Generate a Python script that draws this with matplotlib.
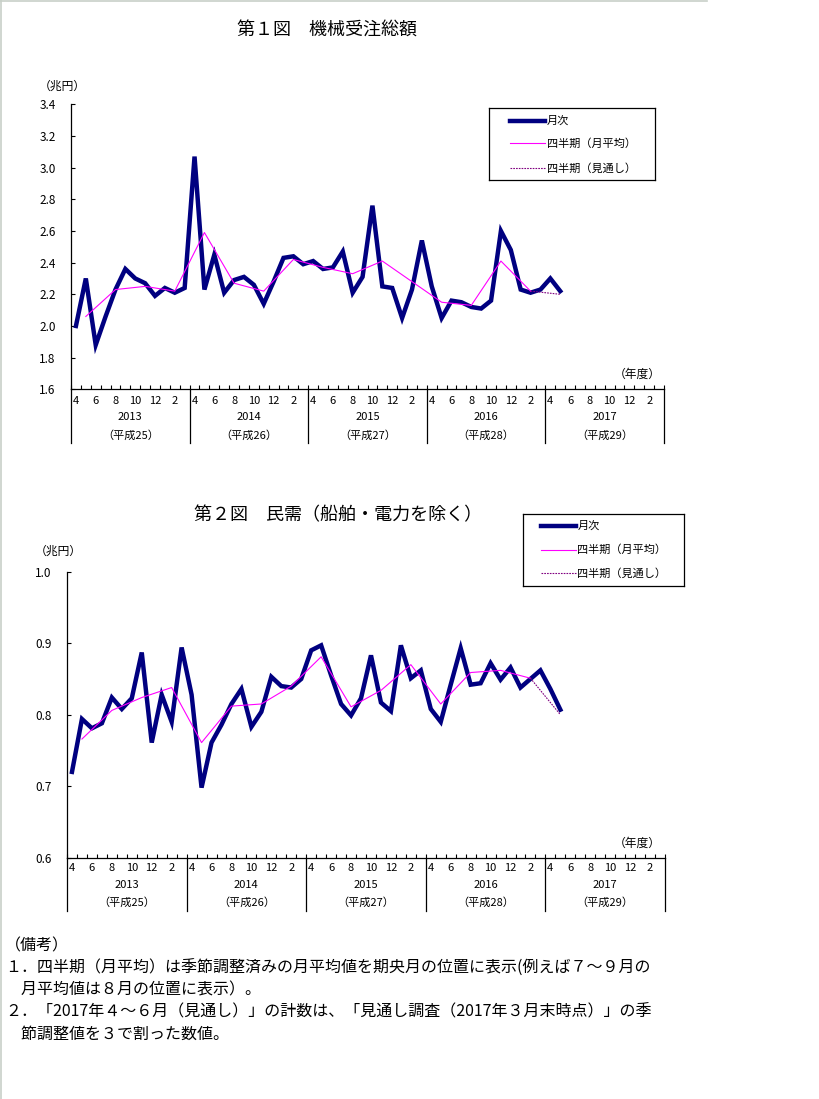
import matplotlib
matplotlib.use("Agg")
import matplotlib.pyplot as plt
from matplotlib.lines import Line2D

plt.rcParams['font.family'] = ['Noto Sans CJK JP', 'DejaVu Sans']

W, H = 819, 1099

# ── Data ──────────────────────────────────────────────────────────
years = ["2013", "2014", "2015", "2016", "2017"]
heisei = ["（平成25）", "（平成26）", "（平成27）", "（平成28）", "（平成29）"]
month_labels = ["4", "6", "8", "10", "12", "2"]
legend_labels = ["月次", "四半期（月平均）", "四半期（見通し）"]

# 機械受注総額 (兆円), Apr 2013 - May 2017
total_monthly = [
    2.00, 2.30, 1.88, 2.06, 2.23, 2.36, 2.30, 2.27, 2.19, 2.24, 2.21, 2.24,
    3.07, 2.23, 2.45, 2.21, 2.29, 2.31, 2.26, 2.14, 2.28, 2.43, 2.44, 2.39,
    2.41, 2.36, 2.37, 2.47, 2.21, 2.31, 2.76, 2.25, 2.24, 2.05, 2.23, 2.54,
    2.25, 2.05, 2.16, 2.15, 2.12, 2.11, 2.16, 2.60, 2.48, 2.23, 2.21, 2.23,
    2.30, 2.22,
]
# quarterly averages, shown at the middle month (May, Aug, Nov, Feb)
total_quarterly = [
    2.06, 2.23, 2.25, 2.22, 2.59, 2.27, 2.22, 2.42,
    2.37, 2.33, 2.41, 2.28, 2.15, 2.13, 2.41, 2.22,
]
total_outlook = 2.20

# 民需（船舶・電力を除く）(兆円)
private_monthly = [
    0.720, 0.794, 0.781, 0.788, 0.824, 0.808, 0.823, 0.887, 0.761, 0.828, 0.790, 0.894,
    0.828, 0.698, 0.761, 0.786, 0.815, 0.836, 0.783, 0.804, 0.853, 0.840, 0.838, 0.850,
    0.890, 0.897, 0.855, 0.815, 0.799, 0.823, 0.883, 0.817, 0.805, 0.897, 0.851, 0.862,
    0.808, 0.790, 0.842, 0.893, 0.842, 0.844, 0.872, 0.849, 0.866, 0.838, 0.850, 0.862,
    0.836, 0.807,
]
private_quarterly = [
    0.766, 0.806, 0.824, 0.838, 0.761, 0.812, 0.815, 0.840,
    0.881, 0.811, 0.834, 0.870, 0.815, 0.859, 0.862, 0.851,
]
private_outlook = 0.800

notes = [
    "（備考）",
    "１．四半期（月平均）は季節調整済みの月平均値を期央月の位置に表示(例えば７～９月の",
    "　月平均値は８月の位置に表示）。",
    "２．「2017年４～６月（見通し）」の計数は、「見通し調査（2017年３月末時点）」の季",
    "　節調整値を３で割った数値。",
]

NAVY = "#000080"
PINK = "#FF00FF"
PURPLE = "#800080"

fig = plt.figure(figsize=(W / 100, H / 100), dpi=100)


def px_axes(left, top, right, bottom):
    return fig.add_axes([left / W, 1 - bottom / H, (right - left) / W, (bottom - top) / H])


def draw_chart(box, ylim, yticks, monthly, quarterly, outlook, title, title_xy,
               unit_xy, year_xy, rows_y, sep_bottom, legend_box):
    left, top, right, bottom = box
    ax = px_axes(left, top, right, bottom)

    def fy(y_px):
        return (bottom - y_px) / (bottom - top)

    xm = [i + 0.5 for i in range(len(monthly))]
    xq = [3 * i + 1.5 for i in range(len(quarterly))]
    ax.plot(xm, monthly, color=NAVY, lw=3.2, solid_joinstyle="miter", zorder=3)
    ax.plot(xq, quarterly, color=PINK, lw=0.8, zorder=4)
    ax.plot([xq[-1], xq[-1] + 3], [quarterly[-1], outlook], color=PURPLE,
            lw=0.8, ls=(0, (1.5, 1)), zorder=4)

    ax.set_xlim(0, 60)
    ax.set_ylim(*ylim)
    ax.set_yticks(yticks)
    ax.set_yticklabels([f"{v:.1f}" for v in yticks], fontsize=8.5)
    ax.set_xticks(range(61))
    ax.set_xticklabels([])
    ax.tick_params(axis="both", direction="in", length=3, width=0.8)
    ax.tick_params(axis="y", pad=11)
    for s in ("top", "right"):
        ax.spines[s].set_visible(False)
    for s in ("left", "bottom"):
        ax.spines[s].set_linewidth(0.9)

    tr = ax.get_xaxis_transform()
    for k in range(6):
        ax.add_line(Line2D([12 * k, 12 * k], [0, fy(sep_bottom)], transform=tr,
                           color="black", lw=0.9, clip_on=False))
    for k in range(5):
        for j, lab in enumerate(month_labels):
            ax.text(12 * k + 2 * j + 0.5, fy(rows_y[0]), lab, transform=tr,
                    ha="center", va="center", fontsize=8)
        ax.text(12 * k + 6, fy(rows_y[1]), years[k], transform=tr,
                ha="center", va="center", fontsize=8)
        ax.text(12 * k + 6, fy(rows_y[2]), heisei[k], transform=tr,
                ha="center", va="center", fontsize=8)

    fig.text(title_xy[0] / W, 1 - title_xy[1] / H, title, ha="center",
             va="center", fontsize=13)
    fig.text(unit_xy[0] / W, 1 - unit_xy[1] / H, "（兆円）", ha="center",
             va="center", fontsize=8.5)
    fig.text(year_xy[0] / W, 1 - year_xy[1] / H, "（年度）", ha="right",
             va="center", fontsize=8.5)

    # legend box
    l_left, l_top, l_right, l_bottom, line_x0, line_x1, rows = legend_box
    lg = px_axes(l_left, l_top, l_right, l_bottom)
    lg.set_xlim(l_left, l_right)
    lg.set_ylim(l_bottom, l_top)
    lg.set_xticks([])
    lg.set_yticks([])
    for s in lg.spines.values():
        s.set_linewidth(0.9)
    styles = [dict(color=NAVY, lw=3.2), dict(color=PINK, lw=0.8),
              dict(color=PURPLE, lw=0.8, ls=(0, (1.5, 1)))]
    for yy, lab, st in zip(rows, legend_labels, styles):
        lg.plot([line_x0, line_x1], [yy, yy], **st)
        lg.text(line_x1 + 1.5, yy, lab, ha="left", va="center", fontsize=8)
    return ax


draw_chart((71, 104.3, 664, 389.3), (1.6, 3.4),
           [1.6 + 0.2 * i for i in range(10)],
           total_monthly, total_quarterly, total_outlook,
           "第１図　機械受注総額", (327, 31), (62, 86), (661, 374),
           (401, 416.5, 435.5), 443,
           (489, 108, 655, 180, 510, 545, (120.7, 143.3, 168.3)))

draw_chart((67, 571.7, 665, 857.7), (0.6, 1.0),
           [0.6 + 0.1 * i for i in range(5)],
           private_monthly, private_quarterly, private_outlook,
           "第２図　民需（船舶・電力を除く）", (338, 515), (58, 551), (661, 843),
           (868, 885, 903), 911,
           (523, 514, 684, 586, 541, 576, (526, 550, 573.3)))

# notes
note_pos = [(5, 946), (5, 968), (5, 990), (5, 1012), (5, 1034)]
for (x, y), t in zip(note_pos, notes):
    fig.text(x / W, 1 - y / H, t, ha="left", va="center", fontsize=11.5)

# faint page border
fig.add_artist(Line2D([0, 707 / W], [1 - 0.5 / H, 1 - 0.5 / H], color="#c8d0c8", lw=1.2))
fig.add_artist(Line2D([0.6 / W, 0.6 / W], [0, 1], color="#c8d0c8", lw=1.2))

fig.savefig("out.png", dpi=100)
